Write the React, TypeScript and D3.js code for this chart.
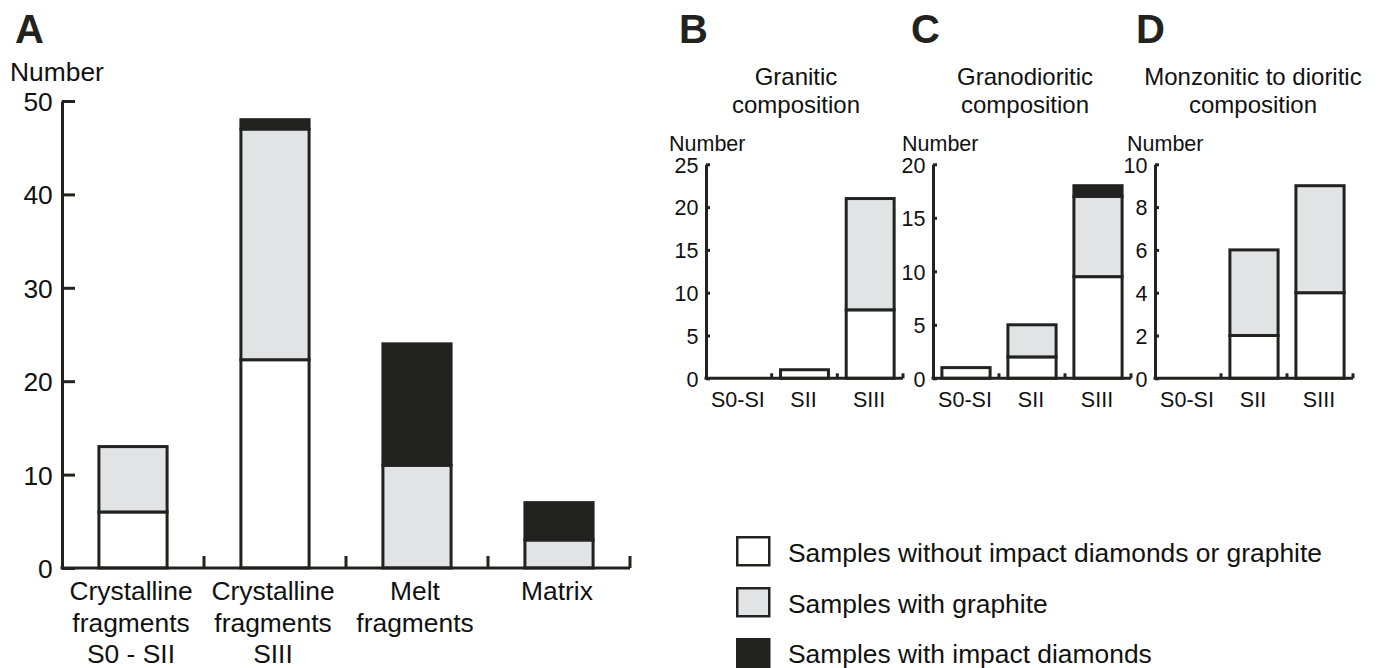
import { useEffect, useRef } from 'react';
import * as d3 from 'd3';

const width = 1379;
const height = 668;

// panel A
const catsA = ['Crystalline fragments S0 - SII', 'Crystalline fragments SIII', 'Melt fragments', 'Matrix'];
const labelsA = [
  ['Crystalline', 'fragments', 'S0 - SII'],
  ['Crystalline', 'fragments', 'SIII'],
  ['Melt', 'fragments'],
  ['Matrix'],
];
const noneA = [6, 22.3, 0, 0];
const graphiteA = [7, 24.7, 11, 3];
const diamondA = [0, 1, 13, 4];
const ticksA = [0, 10, 20, 30, 40, 50];

// panels B, C, D share the same categories
const catsSmall = ['S0-SI', 'SII', 'SIII'];

const noneB = [0, 1, 8];
const graphiteB = [0, 0, 13];
const diamondB = [0, 0, 0];
const ticksB = [0, 5, 10, 15, 20, 25];

const noneC = [1, 2, 9.5];
const graphiteC = [0, 3, 7.5];
const diamondC = [0, 0, 1];
const ticksC = [0, 5, 10, 15, 20];

const noneD = [0, 2, 4];
const graphiteD = [0, 4, 5];
const diamondD = [0, 0, 0];
const ticksD = [0, 2, 4, 6, 8, 10];

const legendLabels = [
  'Samples without impact diamonds or graphite',
  'Samples with graphite',
  'Samples with impact diamonds',
];

const keys = ['none', 'graphite', 'diamond'];
const ink = '#222320';
const grey = '#e2e3e5';
const colour = d3.scaleOrdinal<string, string>().domain(keys).range(['#ffffff', grey, ink]);
const font = '"Liberation Sans", Arial, Helvetica, sans-serif';

const panels = [
  {
    letter: 'A', letterX: 15, cats: catsA, labels: labelsA, none: noneA, graphite: graphiteA, diamond: diamondA,
    ticks: ticksA, x0: 62, x1: 630, yTop: 101, yBot: 568, fs: 26.4, tickLen: 13, sepLen: 12, barPad: 0.52,
    numberX: 10, numberY: 81, labelDy: 32, lineH: 31.5, title: [] as string[], titleX: 0,
  },
  {
    letter: 'B', letterX: 679, cats: catsSmall, labels: catsSmall.map((c) => [c]), none: noneB, graphite: graphiteB, diamond: diamondB,
    ticks: ticksB, x0: 706, x1: 903, yTop: 164.3, yBot: 378.3, fs: 21.5, tickLen: 4, sepLen: 5, barPad: 0.27,
    numberX: 669, numberY: 151, labelDy: 28.5, lineH: 28, title: ['Granitic', 'composition'], titleX: 796,
  },
  {
    letter: 'C', letterX: 911, cats: catsSmall, labels: catsSmall.map((c) => [c]), none: noneC, graphite: graphiteC, diamond: diamondC,
    ticks: ticksC, x0: 933, x1: 1131, yTop: 164.3, yBot: 378.3, fs: 21.5, tickLen: 4, sepLen: 5, barPad: 0.27,
    numberX: 902, numberY: 151, labelDy: 28.5, lineH: 28, title: ['Granodioritic', 'composition'], titleX: 1025,
  },
  {
    letter: 'D', letterX: 1136, cats: catsSmall, labels: catsSmall.map((c) => [c]), none: noneD, graphite: graphiteD, diamond: diamondD,
    ticks: ticksD, x0: 1155, x1: 1353, yTop: 164.3, yBot: 378.3, fs: 21.5, tickLen: 4, sepLen: 5, barPad: 0.27,
    numberX: 1127, numberY: 151, labelDy: 28.5, lineH: 28, title: ['Monzonitic to dioritic', 'composition'], titleX: 1253,
  },
];

const App = () => {
  const ref = useRef<SVGSVGElement>(null);

  useEffect(() => {
    const svg = d3.select(ref.current);
    svg.selectAll('*').remove();

    panels.forEach((p) => {
      const g = svg.append('g');
      const rows = p.cats.map((c, i) => ({ cat: c, none: p.none[i], graphite: p.graphite[i], diamond: p.diamond[i] }));
      const series = d3.stack<any>().keys(keys)(rows);

      const x = d3.scaleBand().domain(p.cats).range([p.x0, p.x1]).paddingInner(p.barPad).paddingOuter(p.barPad / 2);
      const y = d3.scaleLinear().domain([0, p.ticks[p.ticks.length - 1]]).range([p.yBot, p.yTop]);

      // panel letter
      g.append('text')
        .attr('x', p.letterX)
        .attr('y', 43)
        .attr('font-family', font)
        .attr('font-weight', 'bold')
        .attr('font-size', 40)
        .attr('fill', ink)
        .text(p.letter);

      // panel title
      p.title.forEach((line, i) => {
        g.append('text')
          .attr('x', p.titleX)
          .attr('y', 85 + i * 28)
          .attr('text-anchor', 'middle')
          .attr('font-family', font)
          .attr('font-size', 24)
          .attr('fill', '#111')
          .text(line);
      });

      g.append('text')
        .attr('x', p.numberX)
        .attr('y', p.numberY)
        .attr('font-family', font)
        .attr('font-size', p.fs)
        .attr('fill', '#111')
        .text('Number');

      // bars
      g.append('g')
        .selectAll('g')
        .data(series)
        .join('g')
        .attr('fill', (d) => colour(d.key))
        .selectAll('rect')
        .data((d) => d.filter((s) => s[1] - s[0] > 0))
        .join('rect')
        .attr('x', (d) => x(d.data.cat)!)
        .attr('width', x.bandwidth())
        .attr('y', (d) => y(d[1]))
        .attr('height', (d) => y(d[0]) - y(d[1]))
        .attr('stroke', ink)
        .attr('stroke-width', 3);

      // y axis, ticks pointing inward
      const yAxis = g.append('g')
        .attr('transform', `translate(${p.x0},0)`)
        .call(d3.axisLeft(y).tickValues(p.ticks).tickSize(-p.tickLen).tickSizeOuter(0).tickPadding(p.fs * 0.35));
      yAxis.select('.domain').attr('stroke', ink).attr('stroke-width', 3);
      yAxis.selectAll('.tick line').attr('stroke', ink).attr('stroke-width', 3);
      yAxis.selectAll('.tick text')
        .attr('font-family', font)
        .attr('font-size', p.fs)
        .attr('fill', '#111')
        .attr('dy', '0.36em');

      // x axis with separators between categories
      const step = x.step();
      g.append('path')
        .attr('d', `M${p.x0 - 1.5},${p.yBot}H${p.x1}`)
        .attr('stroke', ink)
        .attr('stroke-width', 3)
        .attr('fill', 'none');
      g.append('g')
        .selectAll('line')
        .data(d3.range(1, p.cats.length + 1))
        .join('line')
        .attr('x1', (i) => p.x0 + i * step)
        .attr('x2', (i) => p.x0 + i * step)
        .attr('y1', p.yBot)
        .attr('y2', p.yBot - p.sepLen)
        .attr('stroke', ink)
        .attr('stroke-width', 3);

      // category labels
      const lab = g.append('g')
        .selectAll('text')
        .data(p.cats)
        .join('text')
        .attr('text-anchor', 'middle')
        .attr('font-family', font)
        .attr('font-size', p.fs)
        .attr('fill', '#111');
      lab.each(function (c, i) {
        d3.select(this)
          .selectAll('tspan')
          .data(p.labels[i])
          .join('tspan')
          .attr('x', x(c)! + x.bandwidth() / 2 - (p.letter === 'A' ? 2 : 1))
          .attr('y', (_, j) => p.yBot + p.labelDy + j * p.lineH)
          .text((t) => t);
      });
    });

    // legend
    const leg = svg.append('g')
      .selectAll('g')
      .data(keys)
      .join('g')
      .attr('transform', (_, i) => `translate(736,${536 + i * 51})`);
    leg.append('rect')
      .attr('x', 1.25)
      .attr('y', 1.25)
      .attr('width', 32)
      .attr('height', 28)
      .attr('fill', (k) => colour(k))
      .attr('stroke', ink)
      .attr('stroke-width', 2.5);
    leg.append('text')
      .attr('x', 52)
      .attr('y', (_, i) => (i === 2 ? 24.5 : 26))
      .attr('font-family', font)
      .attr('font-size', 26.4)
      .attr('fill', '#111')
      .text((_, i) => legendLabels[i]);
  }, []);

  return (
    <svg
      ref={ref}
      width={width}
      height={height}
      viewBox={`0 0 ${width} ${height}`}
      style={{ position: 'absolute', left: 0, top: 0, background: '#fff' }}
    />
  );
};

export default App;
